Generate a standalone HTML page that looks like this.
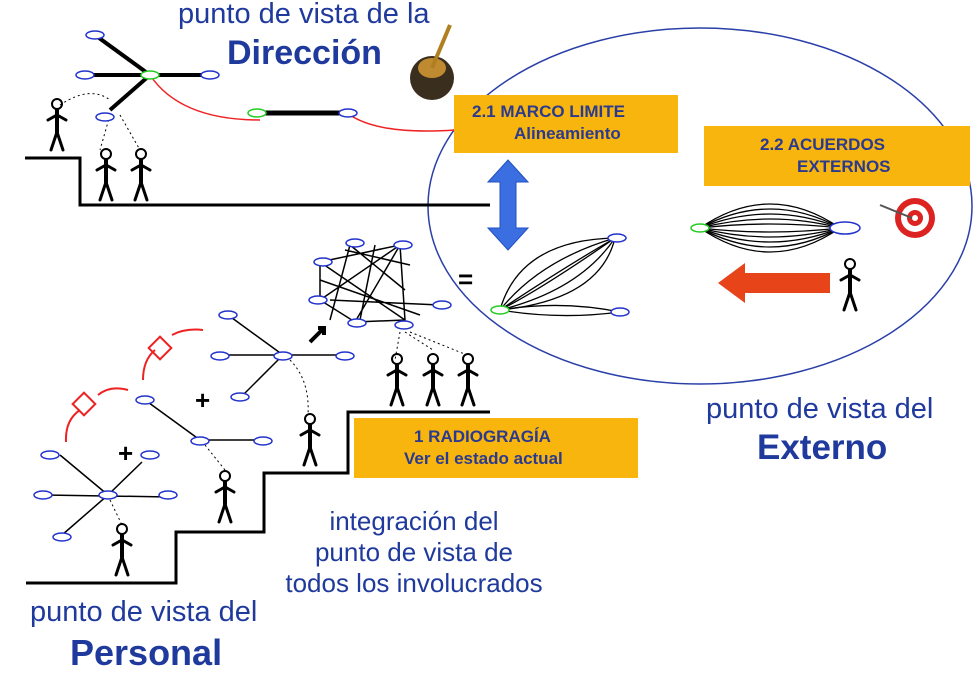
<!DOCTYPE html>
<html><head><meta charset="utf-8"><style>
body{margin:0;background:#fff;width:978px;height:682px;overflow:hidden;position:relative;font-family:"Liberation Sans",sans-serif}
.t{position:absolute;color:#1f3a9c;white-space:nowrap}
.b{position:absolute;background:#f7b50d;color:#2b3a8f;font-weight:bold;font-size:17px;line-height:22px}
</style></head><body>
<svg width="978" height="682" style="position:absolute;left:0;top:0">
<defs>
<g id="fig" stroke="#000" stroke-width="4" fill="none" stroke-linecap="round">
<circle cx="0" cy="-26" r="5" stroke-width="2"/>
<line x1="0" y1="-20" x2="0" y2="2"/>
<path d="M-9 -10 L0 -15 L9 -10" stroke-width="3"/>
<path d="M-6 20 L0 2 L6 20" stroke-width="3"/>
</g>
<g id="n"><ellipse rx="9" ry="4" fill="#fff" stroke="#2233cc" stroke-width="1.5"/></g>
<g id="g"><ellipse rx="9" ry="4" fill="#fff" stroke="#22cc22" stroke-width="1.5"/></g>
</defs>
<ellipse cx="700" cy="206" rx="272" ry="178" fill="none" stroke="#2a3fa8" stroke-width="1.5"/>
<g fill="none" stroke="#000" stroke-width="3">
<path d="M25 158 H80 V205 H490"/>
<path d="M26 583 H176 V532 H264 V473 H348 V412 H490"/>
</g>
<g stroke="#000" stroke-width="4">
<line x1="95" y1="35" x2="150" y2="75"/><line x1="80" y1="75" x2="210" y2="75"/><line x1="150" y1="75" x2="110" y2="110"/>
<line x1="255" y1="113" x2="350" y2="113" stroke-width="5"/>
</g>
<path d="M150 75 Q180 120 260 120" stroke="#e22" fill="none" stroke-width="1.5"/>
<path d="M350 115 Q380 135 455 130" stroke="#e22" fill="none" stroke-width="1.5"/>
<path d="M60 105 Q90 85 110 100" stroke="#000" stroke-dasharray="2 3" fill="none"/>
<path d="M110 115 L100 150 M120 115 L140 150" stroke="#000" stroke-dasharray="2 3" fill="none"/>
<use href="#n" x="95" y="35"/><use href="#n" x="85" y="75"/><use href="#g" x="150" y="75"/><use href="#n" x="210" y="75"/><use href="#n" x="105" y="117"/>
<use href="#g" x="257" y="113"/><use href="#n" x="348" y="113"/>
<use href="#fig" x="57" y="130"/><use href="#fig" x="106" y="180"/><use href="#fig" x="141" y="180"/>
<ellipse cx="432" cy="78" rx="22" ry="22" fill="#3a2e1e"/>
<ellipse cx="432" cy="68" rx="14" ry="10" fill="#c08a30"/>
<line x1="432" y1="68" x2="450" y2="25" stroke="#b08020" stroke-width="4"/>
<path d="M508 160 L528 182 L516 182 L516 228 L528 228 L508 250 L488 228 L500 228 L500 182 L488 182 Z" fill="#3b6ee0" stroke="#2050c0"/>
<g fill="none" stroke="#000" stroke-width="1.3">
<path d="M500 310 Q520 240 615 238"/><path d="M500 310 Q540 260 615 238"/><path d="M500 310 Q560 270 615 238"/><path d="M500 310 Q580 290 615 238"/><path d="M500 310 Q600 300 615 238"/>
<path d="M500 310 Q560 320 620 312"/><path d="M500 310 Q560 300 620 312"/><path d="M500 310 Q540 290 615 238"/>
</g>
<use href="#g" x="500" y="310"/><use href="#n" x="617" y="238"/><use href="#n" x="620" y="312"/>
<text x="458" y="288" font-size="26" font-weight="bold" font-family="Liberation Sans">=</text>
<g fill="none" stroke="#000" stroke-width="1.3">
<path d="M700 228 Q770 180 840 228"/><path d="M700 228 Q770 190 840 228"/><path d="M700 228 Q770 200 840 228"/><path d="M700 228 Q770 210 840 228"/><path d="M700 228 Q770 220 840 228"/>
<path d="M700 228 Q770 236 840 228"/><path d="M700 228 Q770 246 840 228"/><path d="M700 228 Q770 256 840 228"/><path d="M700 228 Q770 266 840 228"/><path d="M700 228 Q770 276 840 228"/>
</g>
<use href="#g" x="700" y="228"/><ellipse cx="845" cy="228" rx="15" ry="6" fill="#fff" stroke="#2233cc" stroke-width="1.5"/>
<use href="#fig" x="850" y="290"/>
<circle cx="915" cy="218" r="20" fill="#d22"/><circle cx="915" cy="218" r="14" fill="#fff"/><circle cx="915" cy="218" r="8" fill="#d22"/><circle cx="915" cy="218" r="3" fill="#fff"/>
<line x1="880" y1="205" x2="912" y2="218" stroke="#555" stroke-width="2"/>
<path d="M718 283 L745 263 L745 273 L830 273 L830 293 L745 293 L745 303 Z" fill="#e8441a"/>
<g fill="none" stroke="#000" stroke-width="1.5">
<path d="M320 262 L400 245 L405 320 L355 322 L320 300 Z"/><path d="M320 262 L405 320 M400 245 L355 322 M320 300 L400 245 M350 245 L405 290 M350 245 L330 320 M320 280 L420 315 M375 245 L360 320 M345 250 L410 265 M330 300 L440 305"/>
</g>
<use href="#n" x="323" y="262"/><use href="#n" x="355" y="243"/><use href="#n" x="403" y="245"/><use href="#n" x="318" y="300"/><use href="#n" x="357" y="323"/><use href="#n" x="404" y="325"/><use href="#n" x="442" y="305"/>
<path d="M310 342 L324 328 M318 328 L324 328 L324 335" stroke="#000" stroke-width="4" fill="none"/>
<path d="M400 332 L395 360 M405 332 L433 350 M410 332 L467 355" stroke="#000" stroke-dasharray="2 3" fill="none"/>
<use href="#fig" x="397" y="385"/><use href="#fig" x="433" y="385"/><use href="#fig" x="468" y="385"/>
<g stroke="#000" stroke-width="1.5" fill="none">
<line x1="60" y1="455" x2="108" y2="495"/><line x1="45" y1="495" x2="170" y2="497"/><line x1="108" y1="495" x2="142" y2="462"/><line x1="108" y1="495" x2="62" y2="535"/>
<line x1="145" y1="400" x2="200" y2="440"/><line x1="200" y1="440" x2="262" y2="440"/>
<line x1="228" y1="315" x2="283" y2="355"/><line x1="220" y1="355" x2="343" y2="355"/><line x1="283" y1="355" x2="240" y2="398"/>
</g>
<g stroke="#000" stroke-dasharray="2 3" fill="none"><path d="M110 500 L122 525"/><path d="M205 445 L225 470"/><path d="M290 360 Q310 380 308 415"/></g>
<use href="#n" x="50" y="455"/><use href="#n" x="43" y="495"/><use href="#n" x="108" y="495"/><use href="#n" x="168" y="495"/><use href="#n" x="150" y="455"/><use href="#n" x="62" y="537"/>
<use href="#n" x="145" y="400"/><use href="#n" x="200" y="441"/><use href="#n" x="263" y="441"/>
<use href="#n" x="228" y="315"/><use href="#n" x="220" y="356"/><use href="#n" x="283" y="356"/><use href="#n" x="345" y="356"/><use href="#n" x="240" y="397"/>
<use href="#fig" x="122" y="555"/><use href="#fig" x="225" y="502"/><use href="#fig" x="310" y="445"/>
<text x="118" y="462" font-size="26" font-weight="bold">+</text><text x="195" y="409" font-size="26" font-weight="bold">+</text>
<g fill="none" stroke="#e22" stroke-width="2">
<path d="M66 442 Q65 420 80 410 M98 395 Q110 385 128 390"/><path d="M143 380 Q143 360 155 350 M172 335 Q185 328 203 330"/>
<rect x="76" y="396" width="16" height="16" transform="rotate(45 84 404)"/><rect x="152" y="340" width="16" height="16" transform="rotate(45 160 348)"/>
</g>
</svg>
<div class="t" style="left:178px;top:-2px;font-size:29px">punto de vista de la</div>
<div class="t" style="left:227px;top:34px;font-size:34px;font-weight:bold">Dirección</div>
<div class="t" style="left:706px;top:393px;font-size:29px">punto de vista del</div>
<div class="t" style="left:757px;top:428px;font-size:35px;font-weight:bold">Externo</div>
<div class="t" style="left:30px;top:596px;font-size:29px">punto de vista del</div>
<div class="t" style="left:70px;top:632px;font-size:36px;font-weight:bold">Personal</div>
<div class="t" style="left:264px;top:506px;width:300px;text-align:center;font-size:26px;line-height:31px">integración del<br>punto de vista de<br>todos los involucrados</div>
<div class="b" style="left:454px;top:95px;width:224px;height:58px;padding-top:6px;box-sizing:border-box"><div style="padding-left:18px">2.1 MARCO LIMITE</div><div style="padding-left:60px">Alineamiento</div></div>
<div class="b" style="left:704px;top:126px;width:266px;height:60px;padding-top:8px;box-sizing:border-box"><div style="padding-left:56px">2.2 ACUERDOS</div><div style="padding-left:93px">EXTERNOS</div></div>
<div class="b" style="left:354px;top:418px;width:284px;height:60px;padding-top:8px;box-sizing:border-box"><div style="padding-left:60px">1 RADIOGRAGÍA</div><div style="padding-left:50px">Ver el estado actual</div></div>
</body></html>
